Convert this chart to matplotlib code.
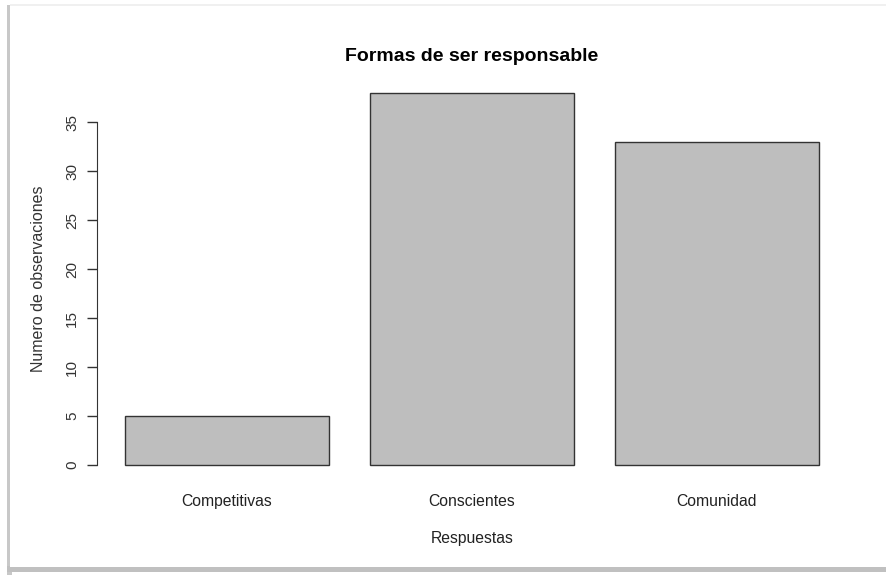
import matplotlib.pyplot as plt
from matplotlib.patches import Rectangle

plt.rcParams['font.family'] = ['Liberation Sans', 'DejaVu Sans']

categorias = ['Competitivas', 'Conscientes', 'Comunidad']
observaciones = [5, 38, 33]
yticks = [0, 5, 10, 15, 20, 25, 30, 35]

fig = plt.figure(figsize=(8.86, 5.75), dpi=100)

# marco tipo captura con sombra
fig.patches.append(Rectangle((10 / 886, 8 / 575), 1, 561 / 575, transform=fig.transFigure,
                             facecolor='white', edgecolor='none', zorder=-1))
fig.patches.append(Rectangle((7 / 886, 0), 5 / 886, 1 - 5 / 575, transform=fig.transFigure,
                             facecolor='#c8c8c8', edgecolor='none', zorder=-2))
fig.patches.append(Rectangle((7 / 886, 3 / 575), 1, 6 / 575, transform=fig.transFigure,
                             facecolor='#c0c0c0', edgecolor='none', zorder=-2))
fig.patches.append(Rectangle((10 / 886, 1 - 6 / 575), 1, 2 / 575, transform=fig.transFigure,
                             facecolor='#f0f0f0', edgecolor='none', zorder=-2))

ax = fig.add_axes([97.3 / 886, 1 - 480 / 575, (846.3 - 97.3) / 886, (480 - 77.7) / 575])
ax.patch.set_alpha(0)

# posiciones como barplot de R: ancho 1, espacio 0.2
pos = [0.7 + 1.2 * i for i in range(len(categorias))]
ax.bar(pos, observaciones, width=1.0, color='#bebebe', edgecolor='#333333', linewidth=1.0)

ax.set_xlim(0.064, 3.736)
ax.set_ylim(-1.52, 39.52)

for s in ['top', 'right', 'bottom']:
    ax.spines[s].set_visible(False)
ax.spines['left'].set_bounds(0, 35)
ax.spines['left'].set_color('#333333')

ax.set_yticks(yticks)
ax.set_yticklabels([str(v) for v in yticks], rotation=90, va='center', fontsize=11, color='#333333')
ax.tick_params(axis='y', length=7, width=1, color='#333333', pad=6)

ax.set_xticks(pos)
ax.set_xticklabels(categorias, fontsize=11.3, color='#222222')
ax.tick_params(axis='x', length=0, pad=10)

ax.set_title('Formas de ser responsable', fontsize=14, fontweight='bold', pad=12)
ax.set_xlabel('Respuestas', fontsize=11.3, color='#222222', labelpad=16)
ax.set_ylabel('Numero de observaciones', fontsize=11.5, color='#333333', labelpad=14)

fig.savefig('out.png', dpi=100)
